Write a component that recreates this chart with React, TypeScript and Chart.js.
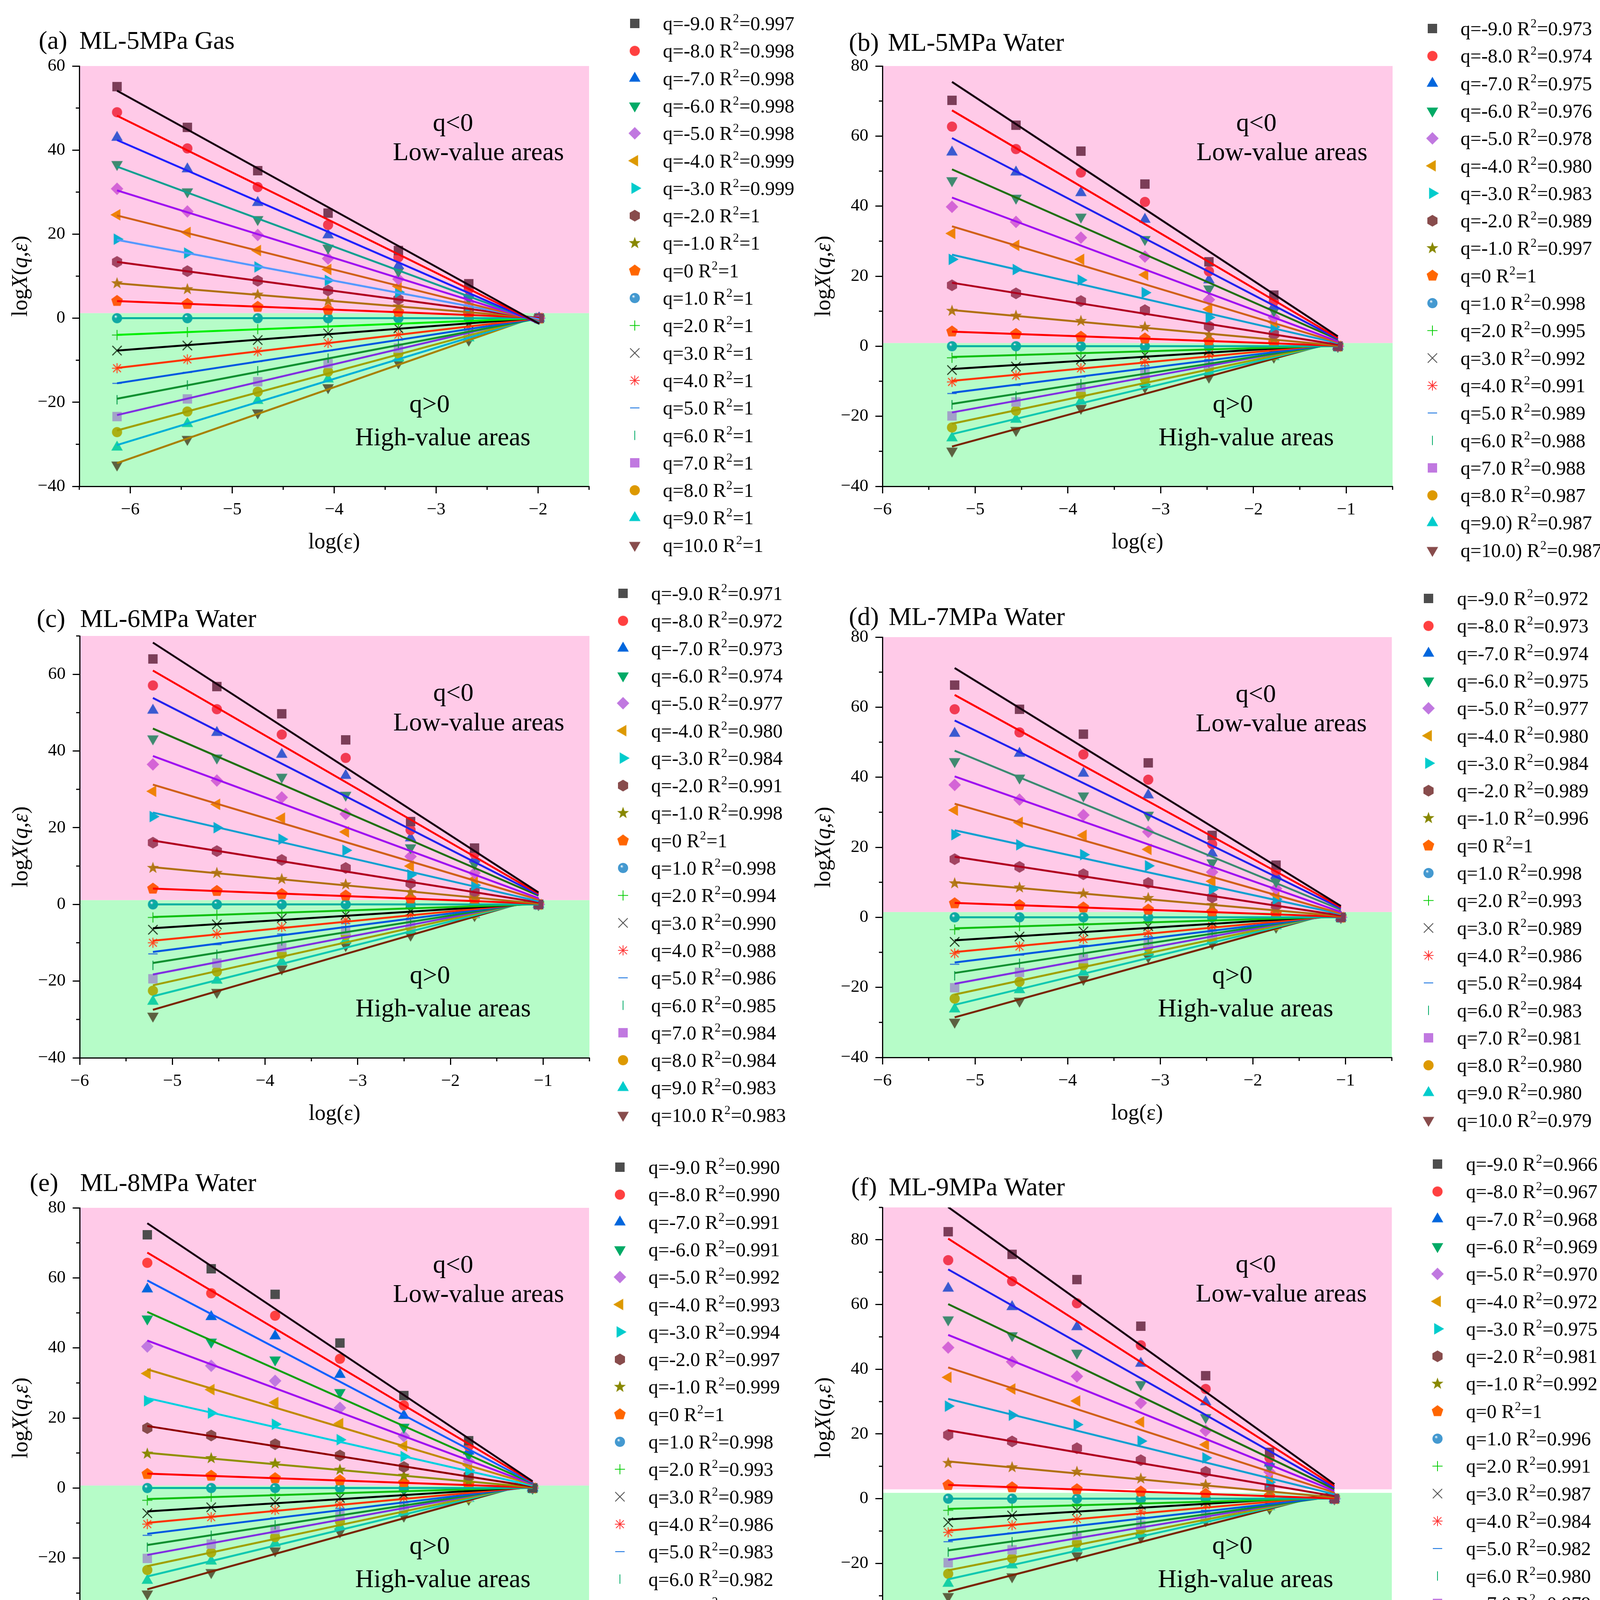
import { useEffect, useRef } from "react"
import { Chart, registerables } from "chart.js"

Chart.register(...registerables)

const FONT = "'Liberation Serif', 'Times New Roman', serif"
const PINK = "#ffcae8"
const GREEN = "#b6fcc8"

// q of the 20 series, as printed in the legends
const qText = ["-9.0", "-8.0", "-7.0", "-6.0", "-5.0", "-4.0", "-3.0", "-2.0", "-1.0", "0", "1.0", "2.0", "3.0", "4.0", "5.0", "6.0", "7.0", "8.0", "9.0", "10.0"]
const qTextB = [...qText.slice(0, 18), "9.0)", "10.0)"]

const markerKinds = ["square", "circle", "triUp", "triDown", "diamond", "triLeft", "triRight", "hexagon", "star", "pentagon", "sphere", "plus", "cross", "asterisk", "dash", "vline", "square", "circle", "triUp", "triDown"]
const legendColors = ["#4d4d4d", "#ff4040", "#0066dd", "#00aa66", "#c078e0", "#dd9900", "#00cccc", "#884c4c", "#888800", "#ff6600", "#4499d0", "#00cc00", "#444444", "#ff3333", "#0066dd", "#00aa66", "#c078e0", "#dd9900", "#00cccc", "#884c4c"]
const plotColors = ["#7b3d58", "#f23a52", "#3a5ad0", "#3f8a70", "#d464d6", "#f08208", "#08aed0", "#a24462", "#b47a1a", "#ff5a10", "#10a8a4", "#22c022", "#1e3a1e", "#ff4a22", "#2266dd", "#10a050", "#a2a2c8", "#aab014", "#14d0a4", "#5c6040"]
const lineColors = ["#1a0010", "#ff0000", "#2222ee", "#1a7a3a", "#a010f0", "#d06018", "#10a0d0", "#b00020", "#b07010", "#ff0000", "#00b0a0", "#10c010", "#000000", "#ff3300", "#0058e0", "#109030", "#8030e0", "#a0a000", "#10c8b0", "#7a2400"]

// (a) ML-5MPa Gas
const xA = [-6.13, -5.44, -4.75, -4.06, -3.37, -2.68, -1.99]
const yA = [
  [55.1, 45.4, 35.1, 25.0, 16.1, 8.2, 0],
  [49.0, 40.4, 31.2, 22.2, 14.5, 6.9, 0],
  [43.0, 35.5, 27.5, 19.8, 12.5, 5.6, 0],
  [36.6, 30.1, 23.5, 16.7, 11.2, 4.7, 0],
  [30.8, 25.4, 19.8, 14.2, 9.3, 3.9, 0],
  [24.6, 20.4, 16.1, 11.6, 7.6, 3.0, 0],
  [18.8, 15.5, 12.2, 9.0, 6.2, 2.6, 0],
  [13.4, 11.2, 8.9, 6.6, 4.5, 2.2, 0],
  [8.3, 6.9, 5.6, 4.1, 2.8, 1.5, 0],
  [4.1, 3.4, 2.7, 2.0, 1.5, 0.9, 0],
  [0, 0, 0, 0, 0, 0, 0],
  [-4.0, -3.3, -2.6, -1.9, -1.3, -0.7, 0],
  [-7.7, -6.5, -5.2, -3.6, -2.4, -1.3, 0],
  [-11.9, -9.8, -7.9, -5.9, -3.9, -2.0, 0],
  [-15.5, -12.9, -10.3, -7.7, -5.2, -2.6, 0],
  [-19.4, -15.9, -12.5, -9.5, -6.5, -3.3, 0],
  [-23.4, -19.2, -15.1, -10.8, -7.1, -3.4, 0],
  [-27.1, -22.2, -17.5, -12.7, -8.4, -4.1, 0],
  [-30.7, -25.1, -19.6, -14.5, -9.5, -4.7, 0],
  [-34.9, -28.8, -22.5, -16.5, -10.6, -5.2, 0],
]
const r2A = ["0.997", "0.998", "0.998", "0.998", "0.998", "0.999", "0.999", "1", "1", "1", "1", "1", "1", "1", "1", "1", "1", "1", "1", "1"]

// (b) ML-5MPa Water
const xB = [-5.25, -4.56, -3.86, -3.17, -2.48, -1.78, -1.09]
const yB = [
  [70.2, 63.1, 55.7, 46.3, 24.1, 14.6, 0],
  [62.7, 56.3, 49.6, 41.2, 21.4, 12.8, 0],
  [55.4, 49.7, 43.8, 36.2, 18.9, 11.4, 0],
  [47.3, 42.3, 36.9, 30.5, 16.4, 10.1, 0],
  [39.8, 35.5, 31.0, 25.6, 13.3, 8.2, 0],
  [32.2, 28.8, 24.8, 20.4, 10.6, 6.9, 0],
  [24.8, 21.9, 18.9, 15.3, 8.2, 5.5, 0],
  [17.4, 15.1, 12.9, 10.3, 5.7, 3.5, 0],
  [10.1, 8.7, 7.2, 5.5, 3.2, 2.2, 0],
  [4.2, 3.5, 2.7, 2.2, 1.5, 1.0, 0],
  [0, 0, 0, 0, 0, 0, 0],
  [-3.3, -2.5, -1.8, -1.3, -0.8, -0.5, 0],
  [-6.8, -5.8, -3.8, -2.5, -1.3, -0.8, 0],
  [-10.2, -8.3, -6.3, -4.3, -2.3, -1.1, 0],
  [-13.5, -11.2, -8.8, -5.6, -3.8, -1.5, 0],
  [-16.7, -14.2, -10.7, -6.6, -4.8, -2.1, 0],
  [-19.9, -15.9, -11.7, -7.3, -5.3, -2.3, 0],
  [-23.2, -18.4, -13.7, -9.3, -6.3, -2.6, 0],
  [-26.2, -20.9, -15.7, -10.5, -7.3, -3.0, 0],
  [-29.9, -24.0, -17.7, -11.7, -8.8, -3.1, 0],
]
const r2B = ["0.973", "0.974", "0.975", "0.976", "0.978", "0.980", "0.983", "0.989", "0.997", "1", "0.998", "0.995", "0.992", "0.991", "0.989", "0.988", "0.988", "0.987", "0.987", "0.987"]

// (c) ML-6MPa Water
const xC = [-5.21, -4.52, -3.82, -3.13, -2.43, -1.74, -1.05]
const yC = [
  [64.0, 56.8, 49.7, 42.9, 21.6, 14.7, 0],
  [57.1, 50.9, 44.3, 38.2, 19.4, 13.2, 0],
  [50.6, 44.8, 39.1, 33.6, 17.3, 11.8, 0],
  [43.2, 38.2, 33.2, 28.5, 14.8, 10.5, 0],
  [36.5, 32.3, 27.9, 23.6, 12.5, 8.2, 0],
  [29.5, 26.1, 22.5, 18.9, 10.0, 6.6, 0],
  [22.9, 20.0, 17.0, 14.1, 7.7, 5.0, 0],
  [16.1, 13.9, 11.6, 9.5, 5.5, 3.4, 0],
  [9.5, 8.2, 6.6, 5.2, 3.2, 2.0, 0],
  [4.1, 3.5, 2.7, 2.3, 1.5, 1.1, 0],
  [0, 0, 0, 0, 0, 0, 0],
  [-3.4, -2.7, -2.1, -1.5, -0.9, -0.6, 0],
  [-6.6, -5.2, -3.6, -2.7, -1.8, -0.9, 0],
  [-10.0, -7.7, -5.9, -4.1, -2.7, -1.2, 0],
  [-12.9, -10.5, -7.7, -5.0, -3.6, -1.5, 0],
  [-15.9, -13.0, -9.5, -5.9, -4.5, -1.9, 0],
  [-19.4, -15.3, -11.2, -6.8, -5.3, -2.2, 0],
  [-22.5, -17.5, -12.9, -8.0, -6.0, -2.5, 0],
  [-25.3, -19.8, -15.0, -9.4, -6.8, -2.7, 0],
  [-29.1, -22.9, -16.8, -10.7, -8.0, -2.9, 0],
]
const r2C = ["0.971", "0.972", "0.973", "0.974", "0.977", "0.980", "0.984", "0.991", "0.998", "1", "0.998", "0.994", "0.990", "0.988", "0.986", "0.985", "0.984", "0.984", "0.983", "0.983"]

// (d) ML-7MPa Water
const xD = [-5.22, -4.52, -3.83, -3.13, -2.44, -1.75, -1.05]
const yD = [
  [66.3, 59.4, 52.3, 44.1, 23.4, 14.9, 0],
  [59.4, 52.8, 46.5, 39.3, 20.9, 13.4, 0],
  [52.5, 46.8, 41.1, 34.9, 18.3, 12.0, 0],
  [44.5, 39.8, 34.7, 29.2, 15.6, 10.2, 0],
  [37.8, 33.6, 29.2, 24.4, 12.9, 8.2, 0],
  [30.6, 27.1, 23.4, 19.4, 10.3, 6.5, 0],
  [23.6, 20.7, 17.9, 14.7, 8.0, 5.2, 0],
  [16.6, 14.4, 12.3, 9.8, 5.7, 3.5, 0],
  [9.7, 8.5, 6.8, 5.5, 3.5, 2.2, 0],
  [4.0, 3.5, 2.8, 2.2, 1.5, 1.0, 0],
  [0, 0, 0, 0, 0, 0, 0],
  [-3.5, -2.5, -1.8, -1.2, -0.8, -0.5, 0],
  [-7.0, -5.5, -4.0, -2.5, -1.5, -0.8, 0],
  [-10.3, -8.3, -6.2, -4.3, -2.5, -1.2, 0],
  [-13.4, -10.8, -8.0, -5.5, -3.5, -1.5, 0],
  [-16.7, -13.1, -10.0, -6.5, -4.3, -1.8, 0],
  [-20.1, -15.7, -11.8, -7.2, -5.0, -2.0, 0],
  [-23.2, -18.4, -13.7, -8.5, -5.8, -2.3, 0],
  [-26.2, -20.7, -15.7, -10.0, -6.5, -2.5, 0],
  [-29.9, -23.9, -17.7, -11.3, -7.5, -2.8, 0],
]
const r2D = ["0.972", "0.973", "0.974", "0.975", "0.977", "0.980", "0.984", "0.989", "0.996", "1", "0.998", "0.993", "0.989", "0.986", "0.984", "0.983", "0.981", "0.980", "0.980", "0.979"]

// (e) ML-8MPa Water
const xE = [-5.27, -4.58, -3.89, -3.19, -2.5, -1.8, -1.11]
const yE = [
  [72.3, 62.6, 55.3, 41.4, 26.4, 13.5, 0],
  [64.3, 55.6, 49.2, 36.9, 23.6, 12.0, 0],
  [56.8, 48.9, 43.4, 32.4, 20.7, 10.5, 0],
  [48.3, 41.7, 36.6, 27.3, 17.4, 9.5, 0],
  [40.4, 34.9, 30.6, 22.9, 14.8, 7.7, 0],
  [32.7, 28.1, 24.4, 18.4, 12.0, 6.5, 0],
  [24.9, 21.4, 18.2, 13.8, 9.0, 5.0, 0],
  [17.1, 15.0, 12.5, 9.3, 6.0, 3.5, 0],
  [9.8, 8.5, 7.0, 5.2, 3.5, 2.0, 0],
  [4.0, 3.5, 2.8, 2.2, 1.5, 1.0, 0],
  [0, 0, 0, 0, 0, 0, 0],
  [-3.5, -2.5, -1.8, -1.3, -0.8, -0.5, 0],
  [-7.2, -5.5, -4.0, -2.8, -1.8, -1.0, 0],
  [-10.3, -8.3, -6.3, -4.5, -2.8, -1.5, 0],
  [-13.5, -10.8, -8.5, -5.8, -4.0, -1.8, 0],
  [-16.9, -13.5, -10.5, -6.8, -4.8, -2.2, 0],
  [-20.1, -16.0, -11.8, -7.8, -5.3, -2.5, 0],
  [-23.4, -18.4, -14.0, -9.5, -6.0, -2.8, 0],
  [-26.4, -20.9, -15.8, -11.0, -6.8, -3.0, 0],
  [-30.2, -24.1, -17.9, -12.5, -8.0, -3.2, 0],
]
const r2E = ["0.990", "0.990", "0.991", "0.991", "0.992", "0.993", "0.994", "0.997", "0.999", "1", "0.998", "0.993", "0.989", "0.986", "0.983", "0.982", "0.981", "0.980", "0.979", "0.979"]

// (f) ML-9MPa Water
const xF = [-5.29, -4.6, -3.9, -3.21, -2.51, -1.82, -1.12]
const yF = [
  [82.5, 75.5, 67.7, 53.3, 38.0, 14.3, 0],
  [73.7, 67.2, 60.4, 47.4, 33.9, 12.6, 0],
  [65.0, 59.3, 53.1, 41.8, 29.9, 11.0, 0],
  [55.3, 50.4, 45.0, 35.3, 25.1, 9.9, 0],
  [46.7, 42.3, 37.8, 29.6, 21.0, 8.3, 0],
  [37.5, 33.9, 30.2, 23.7, 16.7, 6.7, 0],
  [28.6, 25.8, 22.9, 17.8, 12.6, 5.1, 0],
  [19.7, 17.7, 15.6, 11.9, 8.3, 3.5, 0],
  [11.0, 9.7, 8.3, 6.2, 4.3, 2.2, 0],
  [4.2, 3.5, 2.9, 2.2, 1.5, 0.8, 0],
  [0, 0, 0, 0, 0, 0, 0],
  [-3.6, -2.5, -1.7, -1.2, -0.9, -0.6, 0],
  [-7.3, -5.2, -3.6, -1.9, -0.9, -0.6, 0],
  [-10.4, -8.2, -6.3, -3.9, -1.9, -1.1, 0],
  [-13.3, -10.6, -8.4, -5.7, -3.6, -1.4, 0],
  [-16.5, -13.3, -10.0, -7.3, -4.6, -1.7, 0],
  [-19.8, -15.8, -11.4, -8.2, -5.2, -1.9, 0],
  [-23.2, -18.4, -13.6, -9.5, -5.7, -2.3, 0],
  [-26.2, -20.5, -15.4, -10.8, -6.3, -2.5, 0],
  [-30.2, -24.1, -17.6, -11.9, -6.8, -3.0, 0],
]
const r2F = ["0.966", "0.967", "0.968", "0.969", "0.970", "0.972", "0.975", "0.981", "0.992", "1", "0.996", "0.991", "0.987", "0.984", "0.982", "0.980", "0.979", "0.978", "0.978", "0.977"]

// axis ticks
const xTicksA = [-6, -5, -4, -3, -2]
const xMinorA = [-6.5, -5.5, -4.5, -3.5, -2.5, -1.5]
const xTicksW = [-6, -5, -4, -3, -2, -1]
const xMinorW = [-5.5, -4.5, -3.5, -2.5, -1.5, -0.5]
const yTicks60 = [-40, -20, 0, 20, 40, 60]
const yTicks80 = [-40, -20, 0, 20, 40, 60, 80]
const yMinor60 = [-30, -10, 10, 30, 50]
const yMinor80 = [-30, -10, 10, 30, 50, 70]
const yMinor90 = [-30, -10, 10, 30, 50, 70, 90]

type PanelCfg = {
  tag: string
  name: string
  xs: number[]
  ys: number[][]
  r2: string[]
  q: string[]
  xMin: number
  xMax: number
  yMin: number
  yMax: number
  xTicks: number[]
  xMinor: number[]
  yTicks: number[]
  yMinor: number[]
  pinkFrom: number
  greenTo: number
  left: number
  top: number
  width: number
  height: number
  plot: { l: number; t: number; r: number; b: number }
  tagX: number
  nameX: number
  titleY: number
  legX: number
  legTextX: number
  legY: number
  lineOverride?: Record<number, string>
  legendColoredMarkers?: boolean
}

const panels: PanelCfg[] = [
  {
    tag: "(a)", name: "ML-5MPa Gas", xs: xA, ys: yA, r2: r2A, q: qText,
    xMin: -6.5, xMax: -1.5, yMin: -40, yMax: 60, xTicks: xTicksA, xMinor: xMinorA, yTicks: yTicks60, yMinor: yMinor60,
    pinkFrom: 1.2, greenTo: 1.2,
    left: 0, top: 0, width: 2065, height: 1460, plot: { l: 203, t: 169, r: 1508, b: 1245 },
    tagX: 99, nameX: 203, titleY: 125, legX: 1625, legTextX: 1697, legY: 60,
    lineOverride: { 2: "#2020ff", 3: "#10a090", 6: "#5599ff", 11: "#00ee00", 18: "#00b0d8", 19: "#a88000" },
  },
  {
    tag: "(b)", name: "ML-5MPa Water", xs: xB, ys: yB, r2: r2B, q: qTextB,
    xMin: -6, xMax: -0.5, yMin: -40, yMax: 80, xTicks: xTicksW, xMinor: xMinorW, yTicks: yTicks80, yMinor: yMinor80,
    pinkFrom: 0.9, greenTo: 0.9,
    left: 2065, top: 0, width: 2065, height: 1460, plot: { l: 194, t: 169, r: 1500, b: 1245 },
    tagX: 108, nameX: 208, titleY: 130, legX: 1602, legTextX: 1674, legY: 73,
    lineOverride: { 3: "#207010" },
  },
  {
    tag: "(c)", name: "ML-6MPa Water", xs: xC, ys: yC, r2: r2C, q: qText,
    xMin: -6, xMax: -0.5, yMin: -40, yMax: 70, xTicks: xTicksW, xMinor: xMinorW, yTicks: yTicks60, yMinor: yMinor80,
    pinkFrom: 1.1, greenTo: 1.1,
    left: 0, top: 1460, width: 2065, height: 1460, plot: { l: 204, t: 168, r: 1509, b: 1248 },
    tagX: 94, nameX: 205, titleY: 145, legX: 1595, legTextX: 1667, legY: 59,
    lineOverride: { 3: "#207010" },
  },
  {
    tag: "(d)", name: "ML-7MPa Water", xs: xD, ys: yD, r2: r2D, q: qText,
    xMin: -6, xMax: -0.5, yMin: -40, yMax: 80, xTicks: xTicksW, xMinor: xMinorW, yTicks: yTicks80, yMinor: yMinor80,
    pinkFrom: 1.5, greenTo: 1.5,
    left: 2065, top: 1460, width: 2065, height: 1460, plot: { l: 194, t: 171, r: 1498, b: 1247 },
    tagX: 108, nameX: 210, titleY: 140, legX: 1592, legTextX: 1665, legY: 72,
    lineOverride: { 3: "#3a8a70" },
  },
  {
    tag: "(e)", name: "ML-8MPa Water", xs: xE, ys: yE, r2: r2E, q: qText,
    xMin: -6, xMax: -0.5, yMin: -40, yMax: 80, xTicks: xTicksW, xMinor: xMinorW, yTicks: yTicks80, yMinor: yMinor80,
    pinkFrom: 0.7, greenTo: 0.7,
    left: 0, top: 2920, width: 2065, height: 1456, plot: { l: 204, t: 172, r: 1508, b: 1248 },
    tagX: 76, nameX: 205, titleY: 129, legX: 1587, legTextX: 1660, legY: 68,
    lineOverride: { 2: "#1060ff", 3: "#10a010", 5: "#c08a00", 6: "#00d0e0", 7: "#900000", 8: "#909000" },
    legendColoredMarkers: true,
  },
  {
    tag: "(f)", name: "ML-9MPa Water", xs: xF, ys: yF, r2: r2F, q: qText,
    xMin: -6, xMax: -0.5, yMin: -40, yMax: 90, xTicks: xTicksW, xMinor: xMinorW, yTicks: yTicks80, yMinor: yMinor90,
    pinkFrom: 2.9, greenTo: 1.8,
    left: 2065, top: 2920, width: 2065, height: 1456, plot: { l: 194, t: 171, r: 1498, b: 1248 },
    tagX: 114, nameX: 210, titleY: 140, legX: 1615, legTextX: 1688, legY: 60,
    lineOverride: { 3: "#207010" },
  },
]

function makeMarker(kind: string, color: string, lw: number): HTMLCanvasElement {
  const c = document.createElement("canvas")
  c.width = 44
  c.height = 44
  const ctx = c.getContext("2d")
  if (!ctx) return c
  const m = 22
  ctx.fillStyle = color
  ctx.strokeStyle = color
  ctx.lineWidth = lw
  const poly = (pts: number[][]) => {
    ctx.beginPath()
    pts.forEach(([x, y], i) => (i ? ctx.lineTo(m + x, m + y) : ctx.moveTo(m + x, m + y)))
    ctx.closePath()
    ctx.fill()
  }
  const ngon = (n: number, r: number, start: number) =>
    poly(Array.from({ length: n }, (_, i) => {
      const a = start + (i * 2 * Math.PI) / n
      return [r * Math.cos(a), r * Math.sin(a)]
    }))
  const seg = (x1: number, y1: number, x2: number, y2: number) => {
    ctx.beginPath()
    ctx.moveTo(m + x1, m + y1)
    ctx.lineTo(m + x2, m + y2)
    ctx.stroke()
  }
  switch (kind) {
    case "square":
      ctx.fillRect(m - 12, m - 12, 24, 24)
      break
    case "circle":
      ctx.beginPath()
      ctx.arc(m, m, 13, 0, Math.PI * 2)
      ctx.fill()
      break
    case "sphere": {
      const g = ctx.createRadialGradient(m - 4, m - 5, 0.5, m, m, 13)
      g.addColorStop(0, "#ffffff")
      g.addColorStop(0.3, color)
      g.addColorStop(1, color)
      ctx.fillStyle = g
      ctx.beginPath()
      ctx.arc(m, m, 13, 0, Math.PI * 2)
      ctx.fill()
      break
    }
    case "triUp":
      ngon(3, 17, -Math.PI / 2)
      break
    case "triDown":
      ngon(3, 17, Math.PI / 2)
      break
    case "triLeft":
      ngon(3, 17, Math.PI)
      break
    case "triRight":
      ngon(3, 17, 0)
      break
    case "diamond":
      ngon(4, 16, -Math.PI / 2)
      break
    case "hexagon":
      ngon(6, 15, -Math.PI / 2)
      break
    case "pentagon":
      ngon(5, 15.5, -Math.PI / 2)
      break
    case "star":
      poly(Array.from({ length: 10 }, (_, i) => {
        const r = i % 2 ? 6.5 : 16
        const a = -Math.PI / 2 + (i * Math.PI) / 5
        return [r * Math.cos(a), r * Math.sin(a)]
      }))
      break
    case "plus":
      seg(-13, 0, 13, 0)
      seg(0, -13, 0, 13)
      break
    case "cross":
      seg(-12, -12, 12, 12)
      seg(-12, 12, 12, -12)
      break
    case "asterisk":
      seg(-13, 0, 13, 0)
      seg(0, -13, 0, 13)
      seg(-10, -10, 10, 10)
      seg(-10, 10, 10, -10)
      break
    case "dash":
      seg(-12, 0, 12, 0)
      break
    case "vline":
      seg(0, -12, 0, 12)
      break
  }
  return c
}

// least-squares fit of one series
function fitLine(xs: number[], ys: number[]) {
  const n = xs.length
  const mx = xs.reduce((s, v) => s + v, 0) / n
  const my = ys.reduce((s, v) => s + v, 0) / n
  let sxy = 0
  let sxx = 0
  for (let i = 0; i < n; i++) {
    sxy += (xs[i] - mx) * (ys[i] - my)
    sxx += (xs[i] - mx) * (xs[i] - mx)
  }
  const b = sxy / sxx
  const a = my - b * mx
  return (x: number) => a + b * x
}

const minus = (v: number) => String(v).replace("-", "\u2212")

function Panel({ cfg }: { cfg: PanelCfg }) {
  const canvasRef = useRef<HTMLCanvasElement>(null)

  useEffect(() => {
    if (!canvasRef.current) return

    const plotMarkers = markerKinds.map((k, i) =>
      makeMarker(k, cfg.legendColoredMarkers && i < 10 ? legendColors[i] : plotColors[i], 2.5)
    )
    const legendMarkers = markerKinds.map((k, i) => makeMarker(k, legendColors[i], 2))
    const lineColor = (i: number) => (cfg.lineOverride && cfg.lineOverride[i]) || lineColors[i]
    const xs = cfg.xs
    const last = xs.length - 1

    const pointSets = cfg.ys.map((ys, i) => ({
      label: `q=${cfg.q[i]}`,
      data: xs.map((x, j) => ({ x, y: ys[j] })),
      pointStyle: plotMarkers[i],
      pointRadius: 12,
      pointHoverRadius: 12,
      showLine: false,
      order: 2,
    }))
    const fitSets = cfg.ys.map((ys, i) => {
      const f = fitLine(xs, ys)
      return {
        label: `fit q=${cfg.q[i]}`,
        data: [
          { x: xs[0], y: f(xs[0]) },
          { x: xs[last], y: f(xs[last]) },
        ],
        showLine: true,
        borderColor: lineColor(i),
        borderWidth: 5,
        pointRadius: 0,
        pointHoverRadius: 0,
        order: 1,
      }
    })

    const XH = 150
    const p = cfg.plot

    const decor = {
      id: "decor",
      beforeDraw(chart: Chart) {
        const { ctx, chartArea: a, scales } = chart
        const yPink = scales.y.getPixelForValue(cfg.pinkFrom)
        const yGreen = scales.y.getPixelForValue(cfg.greenTo)
        ctx.save()
        ctx.fillStyle = PINK
        ctx.fillRect(a.left, a.top, a.right - a.left, yPink - a.top)
        ctx.fillStyle = GREEN
        ctx.fillRect(a.left, yGreen, a.right - a.left, a.bottom - yGreen)
        ctx.restore()
      },
      afterDraw(chart: Chart) {
        const { ctx, chartArea: a, scales } = chart
        ctx.save()
        // minor ticks
        ctx.strokeStyle = "#000"
        ctx.lineWidth = 3
        cfg.yMinor.forEach((v) => {
          const py = scales.y.getPixelForValue(v)
          ctx.beginPath()
          ctx.moveTo(a.left - 9, py)
          ctx.lineTo(a.left, py)
          ctx.stroke()
        })
        cfg.xMinor.forEach((v) => {
          const px = scales.x.getPixelForValue(v)
          ctx.beginPath()
          ctx.moveTo(px, a.bottom)
          ctx.lineTo(px, a.bottom + 9)
          ctx.stroke()
        })

        ctx.fillStyle = "#000"
        // panel title
        ctx.textBaseline = "alphabetic"
        ctx.textAlign = "left"
        ctx.font = `66px ${FONT}`
        ctx.fillText(cfg.tag, cfg.tagX, cfg.titleY)
        ctx.fillText(cfg.name, cfg.nameX, cfg.titleY)

        // x axis title
        ctx.textAlign = "center"
        ctx.textBaseline = "middle"
        ctx.font = `56px ${FONT}`
        ctx.fillText("log(\u03b5)", (a.left + a.right) / 2, a.bottom + 144)

        // y axis title with italic parts
        const parts: [string, boolean][] = [["log", false], ["X", true], ["(", false], ["q", true], [",", false], ["\u03b5", true], [")", false]]
        const widths = parts.map(([t, it]) => {
          ctx.font = `${it ? "italic " : ""}56px ${FONT}`
          return ctx.measureText(t).width
        })
        const total = widths.reduce((s, w) => s + w, 0)
        ctx.translate(a.left - 149, (a.top + a.bottom) / 2)
        ctx.rotate(-Math.PI / 2)
        ctx.textAlign = "left"
        let tx = -total / 2
        parts.forEach(([t, it], k) => {
          ctx.font = `${it ? "italic " : ""}56px ${FONT}`
          ctx.fillText(t, tx, 0)
          tx += widths[k]
        })
        ctx.setTransform(1, 0, 0, 1, 0, 0)

        // region labels
        const w = a.right - a.left
        const h = a.bottom - a.top
        ctx.textAlign = "center"
        ctx.font = `66px ${FONT}`
        ctx.fillText("q<0", a.left + 0.733 * w, a.top + 0.138 * h)
        ctx.fillText("Low-value areas", a.left + 0.783 * w, a.top + 0.208 * h)
        ctx.fillText("q>0", a.left + 0.687 * w, a.top + 0.807 * h)
        ctx.fillText("High-value areas", a.left + 0.713 * w, a.top + 0.886 * h)

        // legend
        ctx.textAlign = "left"
        ctx.textBaseline = "alphabetic"
        for (let i = 0; i < cfg.ys.length; i++) {
          const y = cfg.legY + i * 70.3
          ctx.drawImage(legendMarkers[i], cfg.legX - 22, y - 22)
          const base = y + 17
          let lx = cfg.legTextX
          const t1 = `q=${cfg.q[i]} R`
          ctx.font = `50px ${FONT}`
          ctx.fillText(t1, lx, base)
          lx += ctx.measureText(t1).width
          ctx.font = `31px ${FONT}`
          ctx.fillText("2", lx + 1, base - 20)
          lx += ctx.measureText("2").width + 2
          ctx.font = `50px ${FONT}`
          ctx.fillText(`=${cfg.r2[i]}`, lx, base)
        }
        ctx.restore()
      },
    }

    const axisCommon = {
      type: "linear" as const,
      grid: { display: true, drawOnChartArea: false, drawTicks: true, tickLength: 18, tickWidth: 3, tickColor: "#000" },
      border: { display: true, color: "#000", width: 3 },
    }

    const chart = new Chart(canvasRef.current, {
      type: "scatter",
      data: { datasets: [...pointSets, ...fitSets] as any },
      options: {
        animation: false,
        responsive: false,
        devicePixelRatio: 1,
        events: [],
        layout: { padding: { left: 0, top: p.t, right: cfg.width - p.r, bottom: cfg.height - p.b - XH } },
        plugins: { legend: { display: false }, tooltip: { enabled: false } },
        scales: {
          x: {
            ...axisCommon,
            min: cfg.xMin,
            max: cfg.xMax,
            afterBuildTicks: (s: any) => {
              s.ticks = cfg.xTicks.map((v) => ({ value: v }))
            },
            afterFit: (s: any) => {
              s.height = XH
            },
            ticks: { font: { family: FONT, size: 45 }, color: "#000", padding: 15, maxRotation: 0, autoSkip: false, callback: (v: any) => minus(Number(v)) },
          },
          y: {
            ...axisCommon,
            min: cfg.yMin,
            max: cfg.yMax,
            afterBuildTicks: (s: any) => {
              s.ticks = cfg.yTicks.map((v) => ({ value: v }))
            },
            afterFit: (s: any) => {
              s.width = p.l
            },
            ticks: { font: { family: FONT, size: 45 }, color: "#000", padding: 18, autoSkip: false, callback: (v: any) => minus(Number(v)) },
          },
        },
      },
      plugins: [decor],
    })

    return () => {
      chart.destroy()
    }
  }, [cfg])

  return (
    <canvas
      ref={canvasRef}
      width={cfg.width}
      height={cfg.height}
      style={{ position: "absolute", left: cfg.left, top: cfg.top, width: cfg.width, height: cfg.height }}
    />
  )
}

export default function App() {
  return (
    <div style={{ position: "absolute", left: 0, top: 0, width: 4130, height: 4376, background: "#fff", overflow: "hidden" }}>
      {panels.map((p) => (
        <Panel key={p.tag} cfg={p} />
      ))}
    </div>
  )
}
